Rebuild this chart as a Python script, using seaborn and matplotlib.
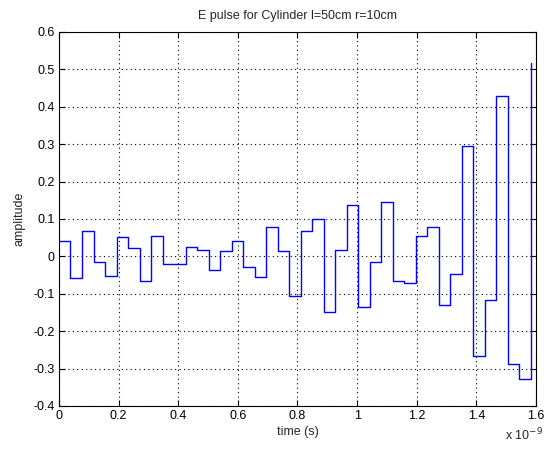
import numpy as np
import pandas as pd
import seaborn as sns
import matplotlib
matplotlib.use("Agg")
import matplotlib.pyplot as plt
from matplotlib.ticker import FuncFormatter, MultipleLocator

# Sampled E-field pulse (stairs), time step in seconds
dt = 0.03862e-9
amplitude = [0.041, -0.059, 0.068, -0.014, -0.052, 0.053, 0.023, -0.066,
             0.055, -0.020, -0.020, 0.026, 0.017, -0.037, 0.015, 0.041,
             -0.029, -0.055, 0.079, 0.015, -0.105, 0.067, 0.099, -0.150,
             0.017, 0.138, -0.134, -0.015, 0.145, -0.065, -0.070, 0.055,
             0.079, -0.129, -0.046, 0.295, -0.265, -0.117, 0.430, -0.289,
             -0.328, 0.518]
time = [i * dt for i in range(len(amplitude))]

title = "E pulse for Cylinder l=50cm r=10cm"
xlabel = "time (s)"
ylabel = "amplitude"
x_ticks = [0, 0.2, 0.4, 0.6, 0.8, 1.0, 1.2, 1.4, 1.6]
y_ticks = [-0.4, -0.3, -0.2, -0.1, 0, 0.1, 0.2, 0.3, 0.4, 0.5, 0.6]

sns.set_theme(style="white")
plt.rcParams["font.family"] = ["Liberation Sans", "DejaVu Sans"]

df = pd.DataFrame({"time": time, "amplitude": amplitude})

fig = plt.figure(figsize=(5.46, 4.55), dpi=100)
ax = fig.add_axes([0.108, 0.1077, 0.8736, 0.822])

sns.lineplot(data=df, x="time", y="amplitude", ax=ax, color="#0000ff",
             linewidth=1.0, drawstyle="steps-post", estimator=None)

ax.set_xlim(0, 1.6e-9)
ax.set_ylim(-0.4, 0.6)
ax.set_xticks([t * 1e-9 for t in x_ticks])
ax.set_yticks(y_ticks)
ax.xaxis.set_major_formatter(FuncFormatter(lambda v, p: f"{v / 1e-9:g}"))
ax.yaxis.set_major_formatter(FuncFormatter(lambda v, p: f"{v:g}" if abs(v) > 1e-9 else "0"))

ax.grid(True, color="black", linestyle=(0, (1, 3)), linewidth=0.8)
for s in ax.spines.values():
    s.set_visible(True)
    s.set_color("black")
    s.set_linewidth(0.8)

ax.tick_params(direction="in", length=4, width=0.8, top=True, right=True,
               labelsize=9, colors="black", pad=3, bottom=True, left=True)

ax.set_title(title, fontsize=9, pad=9)
ax.set_xlabel(xlabel, fontsize=9, labelpad=3)
ax.set_ylabel(ylabel, fontsize=9, labelpad=6)

fig.text(0.925, 0.025, r"x 10$^{-9}$", fontsize=9, ha="left", va="bottom")

fig.savefig("out.png", dpi=100)
